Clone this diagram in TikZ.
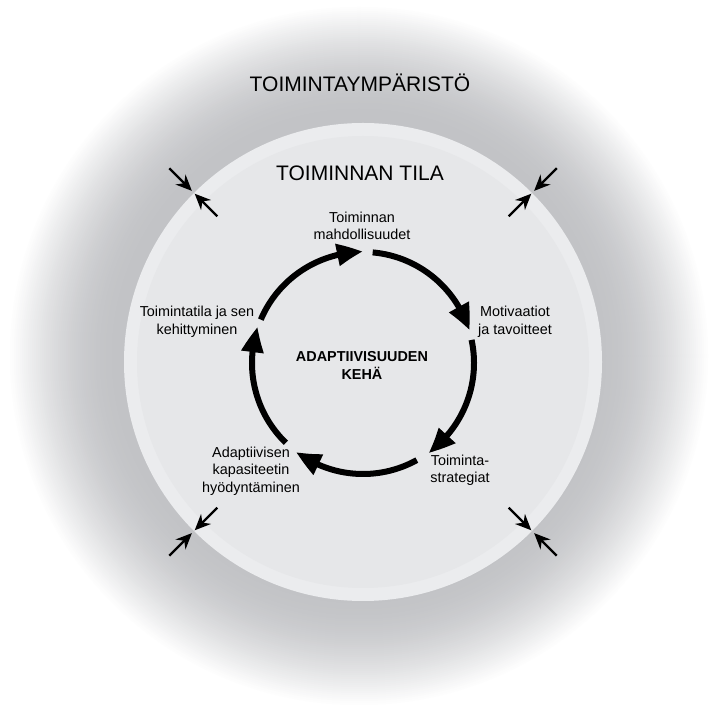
\documentclass[tikz,border=0pt]{standalone}
\usepackage{fontspec}
\setmainfont{Liberation Sans}
\usetikzlibrary{arrows.meta,bending}
\definecolor{envdark}{RGB}{194,195,198}
\definecolor{tilarim}{RGB}{235,236,238}
\definecolor{tilafill}{RGB}{230,231,233}

\begin{document}
\begin{tikzpicture}[x=1pt,y=1pt,
	cyc/.style={line width=6pt,-{Triangle[length=26pt,width=21pt,bend]}},
	pin/.style={line width=2.2pt,-{Stealth[length=16pt,width=14pt]}},
	head/.style={font=\fontsize{21}{25}\selectfont},
	lbl/.style={align=center,font=\fontsize{14.4}{17.5}\selectfont}]
	\useasboundingbox (0,0) rectangle (709,710);

	\coordinate (oc) at (359,354);
	\coordinate (ic) at (363,348);
	\coordinate (c)  at (363,347);

	\foreach \r in {351,349,...,239} {
		\pgfmathsetmacro\p{100*cos(90*(\r-239)/112)}
		\fill[envdark!\p!white] (oc) circle[radius=\r];
	}
	\fill[tilarim]  (ic) circle[radius=239];
	\fill[tilafill] (ic) circle[radius=226];

	\node [head]			(ymp)	at (360,627.5)	{TOIMINTAYMPÄRISTÖ};
	\node [head]			(tila)	at (360,537)	{TOIMINNAN TILA};

	\node [lbl]			(mahd)	at (362,484)	{Toiminnan\\mahdollisuudet};
	\node [lbl]			(mot)	at (515,388)	{Motivaatiot\\ja tavoitteet};
	\node [lbl]			(strat)	at (460,239.5)	{Toiminta-\\strategiat};
	\node [lbl]			(kap)	at (251,239)	{Adaptiivisen\\kapasiteetin\\hyödyntäminen};
	\node [lbl]			(kehit)	at (197,388)	{Toimintatila ja sen\\kehittyminen};
	\node [lbl,font=\fontsize{14.4}{17.5}\selectfont\bfseries]
						(keha)	at (362,344.5)	{ADAPTIIVISUUDEN\\KEHÄ};

	\foreach \a/\b in {85/17, 12/-54, -61/-127, -134/-199, -203/-270}
		\draw [cyc] ([shift={(\a:111)}]c) arc [start angle=\a, end angle=\b, radius=111];

	\foreach \t in {45,135,225,315} {
		\coordinate (p\t) at ([shift={(\t:240)}]ic);
		\draw [pin] ([shift={(\t:34)}]p\t) -- ([shift={(\t:2)}]p\t);
		\draw [pin] ([shift={(\t+180:34)}]p\t) -- ([shift={(\t+180:2)}]p\t);
	}
\end{tikzpicture}
\end{document}
